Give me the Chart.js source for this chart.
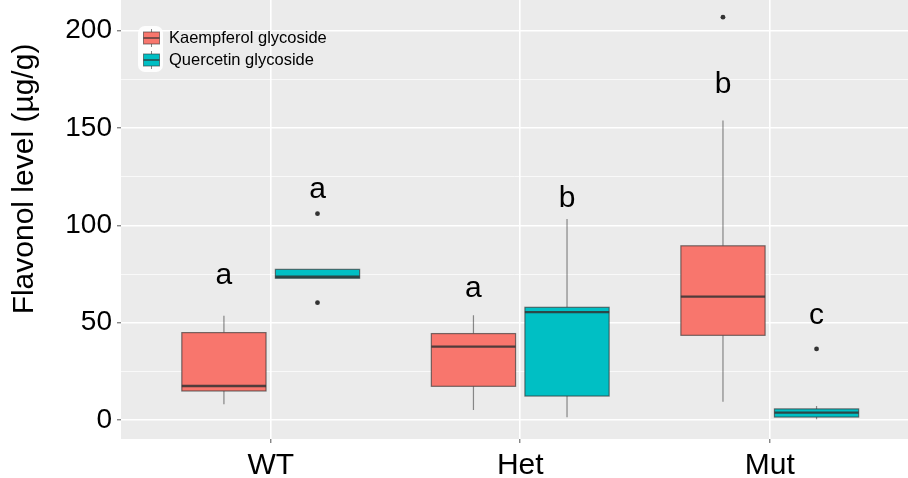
<!DOCTYPE html>
<html><head><meta charset="utf-8">
<script src="https://cdn.jsdelivr.net/npm/chart.js@4/dist/chart.umd.min.js"></script>
<style>html,body{margin:0;padding:0;background:#fff;}#wrap{width:908px;height:478px;position:relative;}</style>
</head><body><div id="wrap"><canvas id="c" width="908" height="478"></canvas></div>
<script>
const categories = ['WT', 'Het', 'Mut'];
const seriesNames = ['Kaempferol glycoside', 'Quercetin glycoside'];
// Kaempferol glycoside box statistics
const kMin = [8.1, 5.1, 9.4];
const kQ1 = [14.9, 17.3, 43.5];
const kMed = [17.5, 37.7, 63.4];
const kQ3 = [44.9, 44.4, 89.5];
const kMax = [53.5, 53.8, 153.9];
const kOut = [[], [], [207]];
// Quercetin glycoside box statistics
const qMin = [72.8, 1.4, 0.4];
const qQ1 = [72.8, 12.3, 1.5];
const qMed = [73.6, 55.4, 3.8];
const qQ3 = [77.4, 57.9, 5.7];
const qMax = [77.4, 103.3, 7.2];
const qOut = [[106, 60.3], [], [36.5]];
// significance letters and their baseline values
const kLetters = ['a', 'a', 'b'];
const qLetters = ['a', 'b', 'c'];
const kLetterY = [69.9, 63.2, 168.1];
const qLetterY = [114.1, 109.5, 49.4];
// axis ticks
const yMajorTicks = [0, 50, 100, 150, 200];
const yMinorTicks = [25, 75, 125, 175];
const yTitle = 'Flavonol level (µg/g)';

const FONT = '"Liberation Sans", Arial, sans-serif';
const fills = ['#F8766D', '#00BFC4'];
const dodge = [-0.1875, 0.1875];
const halfW = 0.16875;

const series = [
  {name: seriesNames[0], min: kMin, q1: kQ1, med: kMed, q3: kQ3, max: kMax, out: kOut, letters: kLetters, ly: kLetterY},
  {name: seriesNames[1], min: qMin, q1: qQ1, med: qMed, q3: qQ3, max: qMax, out: qOut, letters: qLetters, ly: qLetterY}
];

const outlierData = [];
series.forEach((s, si) => s.out.forEach((arr, i) => arr.forEach(v => outlierData.push({x: i + 1 + dodge[si], y: v}))));

const bgPlugin = {
  id: 'panelBg',
  beforeDraw(chart) {
    const {ctx, chartArea: a} = chart;
    ctx.save();
    ctx.fillStyle = '#EBEBEB';
    ctx.fillRect(a.left, a.top, a.right - a.left, a.bottom - a.top);
    ctx.restore();
  }
};

const boxPlugin = {
  id: 'boxes',
  beforeDatasetsDraw(chart) {
    const {ctx, chartArea: a, scales: {x, y}} = chart;
    ctx.save();
    ctx.beginPath(); ctx.rect(a.left, a.top, a.right - a.left, a.bottom - a.top); ctx.clip();
    series.forEach((s, si) => {
      categories.forEach((c, i) => {
        const cv = i + 1 + dodge[si];
        const xc = x.getPixelForValue(cv);
        const xl = x.getPixelForValue(cv - halfW);
        const xr = x.getPixelForValue(cv + halfW);
        const yMin = y.getPixelForValue(s.min[i]), yQ1 = y.getPixelForValue(s.q1[i]);
        const yMed = y.getPixelForValue(s.med[i]), yQ3 = y.getPixelForValue(s.q3[i]);
        const yMax = y.getPixelForValue(s.max[i]);
        ctx.strokeStyle = 'rgba(51,51,51,0.55)';
        ctx.lineWidth = 1.2;
        ctx.beginPath();
        ctx.moveTo(xc, yMax); ctx.lineTo(xc, yQ3);
        ctx.moveTo(xc, yQ1); ctx.lineTo(xc, yMin);
        ctx.stroke();
        ctx.fillStyle = fills[si];
        ctx.fillRect(xl, yQ3, xr - xl, yQ1 - yQ3);
        ctx.strokeStyle = 'rgba(51,51,51,0.65)';
        ctx.lineWidth = 1.2;
        ctx.strokeRect(xl, yQ3, xr - xl, yQ1 - yQ3);
        ctx.strokeStyle = 'rgba(51,51,51,0.85)';
        ctx.lineWidth = 2.4;
        ctx.beginPath(); ctx.moveTo(xl, yMed); ctx.lineTo(xr, yMed); ctx.stroke();
      });
    });
    ctx.restore();
  },
  afterDatasetsDraw(chart) {
    const {ctx, scales: {x, y}} = chart;
    ctx.save();
    ctx.fillStyle = '#000';
    ctx.font = '30px ' + FONT;
    ctx.textAlign = 'center';
    ctx.textBaseline = 'alphabetic';
    series.forEach((s, si) => {
      categories.forEach((c, i) => {
        ctx.fillText(s.letters[i], x.getPixelForValue(i + 1 + dodge[si]), y.getPixelForValue(s.ly[i]));
      });
    });
    ctx.restore();
  },
  afterDraw(chart) {
    const {ctx} = chart;
    ctx.save();
    ctx.translate(25, 179);
    ctx.rotate(-Math.PI / 2);
    ctx.fillStyle = '#000';
    ctx.font = '30px ' + FONT;
    ctx.textAlign = 'center';
    ctx.textBaseline = 'middle';
    ctx.fillText(yTitle, 0, 0);
    ctx.restore();
    ctx.save();
    ctx.fillStyle = 'rgba(255,255,255,0.9)';
    ctx.beginPath();
    ctx.roundRect(138, 26, 25, 46, 7);
    ctx.fill();
    seriesNames.forEach((n, i) => {
      const cy = 38 + 22 * i;
      ctx.strokeStyle = 'rgba(51,51,51,0.6)';
      ctx.lineWidth = 1;
      ctx.beginPath();
      ctx.moveTo(151.5, cy - 9); ctx.lineTo(151.5, cy - 6);
      ctx.moveTo(151.5, cy + 6); ctx.lineTo(151.5, cy + 9);
      ctx.stroke();
      ctx.fillStyle = fills[i];
      ctx.fillRect(143.5, cy - 6, 16, 12);
      ctx.strokeRect(143.5, cy - 6, 16, 12);
      ctx.strokeStyle = 'rgba(51,51,51,0.85)';
      ctx.lineWidth = 1.5;
      ctx.beginPath(); ctx.moveTo(143.5, cy); ctx.lineTo(159.5, cy); ctx.stroke();
      ctx.fillStyle = '#000';
      ctx.font = '16.5px ' + FONT;
      ctx.textAlign = 'left';
      ctx.textBaseline = 'middle';
      ctx.fillText(n, 169, cy);
    });
    ctx.restore();
  }
};

function zeroPad(scale) {
  scale.paddingTop = 0; scale.paddingBottom = 0; scale.paddingLeft = 0; scale.paddingRight = 0;
}

new Chart(document.getElementById('c'), {
  type: 'scatter',
  data: {
    datasets: [{
      label: 'outliers',
      data: outlierData,
      pointRadius: 2.4,
      pointHoverRadius: 2.4,
      pointBackgroundColor: '#333',
      pointBorderWidth: 0,
      showLine: false
    }]
  },
  plugins: [bgPlugin, boxPlugin],
  options: {
    responsive: false,
    animation: false,
    devicePixelRatio: 1,
    layout: {autoPadding: false, padding: 0},
    plugins: {legend: {display: false}, tooltip: {enabled: false}},
    scales: {
      x: {
        type: 'linear',
        min: 0.4,
        max: 3.554,
        afterBuildTicks(scale) { scale.ticks = categories.map((c, i) => ({value: i + 1})); },
        afterFit(scale) { scale.height = 39; zeroPad(scale); },
        ticks: {
          autoSkip: false,
          maxRotation: 0,
          padding: 5,
          color: '#000',
          font: {family: FONT, size: 30},
          callback: (v) => categories[Math.round(v) - 1]
        },
        grid: {color: '#FFFFFF', lineWidth: 1.6, drawTicks: true, tickLength: 4, tickColor: '#555', tickWidth: 1},
        border: {display: false}
      },
      y: {
        type: 'linear',
        min: -9.77,
        max: 215.8,
        afterBuildTicks(scale) {
          scale.ticks = yMajorTicks.concat(yMinorTicks).sort((a, b) => a - b).map(v => ({value: v}));
        },
        afterFit(scale) { scale.width = 121; zeroPad(scale); },
        ticks: {
          autoSkip: false,
          padding: 5,
          color: '#000',
          font: {family: FONT, size: 28},
          callback: (v) => yMajorTicks.includes(v) ? String(v) : ''
        },
        grid: {
          color: '#FFFFFF',
          lineWidth: (ctx) => (ctx.tick && yMajorTicks.includes(ctx.tick.value)) ? 1.6 : 0.7,
          drawTicks: true,
          tickLength: 4,
          tickColor: (ctx) => (ctx.tick && yMajorTicks.includes(ctx.tick.value)) ? '#555' : 'rgba(0,0,0,0)',
          tickWidth: 1
        },
        border: {display: false}
      }
    }
  }
});
</script>
</body></html>
